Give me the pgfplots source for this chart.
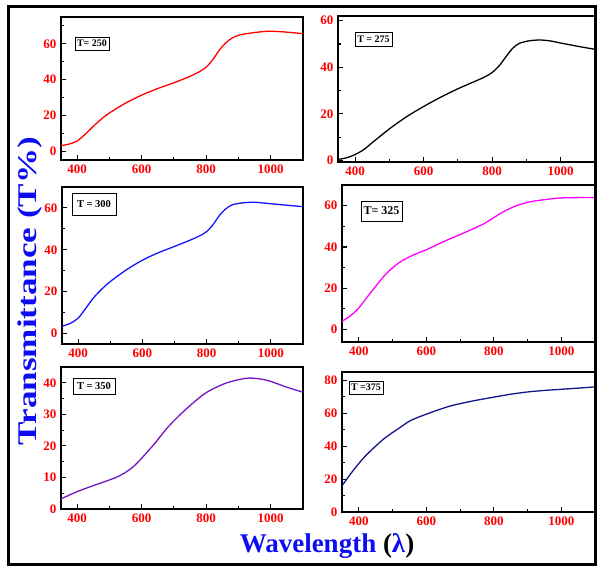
\documentclass[border=0pt]{standalone}
\usepackage{fontspec}
\setmainfont{Liberation Serif}
\usepackage{graphicx}
\usepackage{pgfplots}
\pgfplotsset{compat=1.18}

\definecolor{cRed}{rgb}{1,0,0}
\definecolor{cBlue}{rgb}{0.08,0.08,1}
\definecolor{cMag}{rgb}{1,0,1}
\definecolor{cViolet}{rgb}{0.45,0.08,0.78}
\definecolor{cNavy}{rgb}{0.08,0.08,0.55}
\definecolor{lblBlue}{rgb}{0.05,0.05,0.95}

\pgfplotsset{
  panel/.style={
    scale only axis,
    anchor=south west,
    xmin=350, xmax=1100,
    xtick={400,600,800,1000},
    minor xtick={500,700,900},
    tick pos=left,
    tick align=inside,
    major tick length=5pt,
    minor tick length=3pt,
    tick style={black, line width=1.1pt},
    axis line style={line width=1.3pt},
    tick label style={font=\fontsize{13}{13}\selectfont\bfseries, text=cRed},
    /pgf/number format/assume math mode=true,
    /pgf/number format/1000 sep={},
    xticklabel style={yshift=-1pt},
    yticklabel style={xshift=-1pt},
    clip=true,
  },
  curve/.style={line width=1.3pt, smooth, tension=0.5, no markers},
}

\begin{document}
\begin{tikzpicture}[x=1pt,y=1pt]
\path[use as bounding box] (0,0) rectangle (598,569);

% ---- T = 250 ----
\begin{axis}[panel, at={(61pt,409pt)}, width=242pt, height=143pt,
  ymin=-5, ymax=75, ytick={0,20,40,60}, minor ytick={10,30,50,70}]
\addplot[curve, cRed] coordinates {
(350,3.0) (375,3.9) (400,5.6) (425,9.4) (450,13.8) (475,17.9) (500,21.3) (550,26.8)
(600,31.3) (650,35.0) (700,38.2) (750,41.8) (780,44.5) (800,47.0) (820,51.0)
(840,56.3) (860,60.4) (880,63.2) (905,65.0) (950,66.3) (990,67.0) (1030,66.8)
(1070,66.2) (1100,65.7)};
\end{axis}

% ---- T = 275 ----
\begin{axis}[panel, at={(338pt,407pt)}, width=257pt, height=146pt,
  ymin=-0.6, ymax=62, ytick={0,20,40,60}, minor ytick={10,30,50}]
\addplot[curve, black] coordinates {
(350,0.5) (375,1.2) (400,2.6) (425,4.7) (450,7.7) (500,13.6) (550,18.8)
(600,23.2) (650,27.2) (700,30.8) (750,34.0) (780,36.0) (800,37.8) (820,40.6)
(840,44.5) (860,48.2) (880,50.3) (910,51.4) (940,51.7) (970,51.3) (1000,50.4)
(1050,49.0) (1100,47.7)};
\end{axis}

% ---- T = 300 ----
\begin{axis}[panel, at={(62pt,225pt)}, width=241pt, height=157pt,
  ymin=-5, ymax=70, ytick={0,20,40,60}, minor ytick={10,30,50}]
\addplot[curve, cBlue] coordinates {
(350,3.5) (375,4.8) (400,7.3) (425,12.3) (450,17.4) (475,21.4) (500,24.8)
(550,30.4) (600,35.0) (650,38.6) (700,41.6) (750,44.7) (780,46.8) (800,48.7)
(820,52.0) (840,56.4) (860,59.6) (880,61.5) (910,62.4) (950,62.7) (1000,62.0)
(1050,61.3) (1100,60.6)};
\end{axis}

% ---- T = 325 ----
\begin{axis}[panel, at={(342pt,227pt)}, width=253pt, height=157pt,
  ymin=-6, ymax=70, ytick={0,20,40,60}, minor ytick={10,30,50}]
\addplot[curve, cMag] coordinates {
(350,4.0) (375,6.7) (400,10.5) (434,17.7) (474,25.8) (500,29.9) (525,33.0)
(560,36.0) (602,38.8) (650,42.5) (700,46.0) (739,48.8) (770,51.2) (798,54.0)
(830,57.2) (867,60.0) (900,61.6) (936,62.6) (995,63.7) (1050,63.9) (1100,64.0)};
\end{axis}

% ---- T = 350 ----
\begin{axis}[panel, at={(61pt,60pt)}, width=242pt, height=142pt,
  ymin=0, ymax=45, ytick={0,10,20,30,40}, minor ytick={5,15,25,35}]
\addplot[curve, cViolet] coordinates {
(350,3.2) (400,5.5) (450,7.4) (500,9.2) (525,10.2) (550,11.6) (575,13.5) (600,16.1)
(640,20.7) (682,26.0) (734,31.3) (796,36.6) (859,39.8) (922,41.4) (960,41.3)
(995,40.6) (1047,38.7) (1100,37.0)};
\end{axis}

% ---- T = 375 ----
\begin{axis}[panel, at={(342pt,57pt)}, width=253pt, height=140pt,
  ymin=0, ymax=85, ytick={0,20,40,60,80}, minor ytick={10,30,50,70}]
\addplot[curve, cNavy] coordinates {
(350,15.9) (375,23.0) (400,29.5) (425,35.2) (474,44.4) (520,51.0) (554,55.6)
(604,59.7) (650,63.0) (683,65.0) (740,67.5) (802,69.8) (850,71.5) (901,72.9)
(950,73.8) (1000,74.5) (1050,75.2) (1100,76.0)};
\end{axis}

% sample labels
\tikzset{tag/.style={draw=black, line width=0.8pt, fill=white, inner sep=0pt,
  text=black}}
\node[tag, minimum width=34pt, minimum height=13pt, font=\fontsize{10}{10}\selectfont\bfseries] at (92,525.5) {T= 250};
\node[tag, minimum width=37pt, minimum height=14pt, font=\fontsize{10}{10}\selectfont\bfseries] at (373.5,530) {T = 275};
\node[tag, minimum width=44pt, minimum height=22pt, font=\fontsize{10.5}{11}\selectfont\bfseries] at (94,365) {T = 300};
\node[tag, minimum width=41pt, minimum height=20pt, font=\fontsize{12}{13}\selectfont\bfseries] at (381.5,358) {T= 325};
\node[tag, minimum width=42pt, minimum height=16pt, font=\fontsize{10.5}{11}\selectfont\bfseries] at (94,183) {T = 350};
\node[tag, minimum width=34pt, minimum height=13pt, font=\fontsize{10}{10}\selectfont\bfseries] at (366,181.5) {T =375};

% axis titles
\node[rotate=90, anchor=center, inner sep=0pt, text=lblBlue,
  font=\fontsize{27}{30}\selectfont\bfseries] at (30,278)
  {\scalebox{1.3}[1]{Transmittance (T\%)}};
\node[anchor=base, inner sep=0pt, font=\fontsize{27}{30}\selectfont\bfseries] at (327,16)
  {\textcolor{lblBlue}{Wavelength} (\textcolor{lblBlue}{λ})};

% outer frame
\draw[line width=3pt] (8.5,4) rectangle (595.5,562.5);
\end{tikzpicture}
\end{document}
